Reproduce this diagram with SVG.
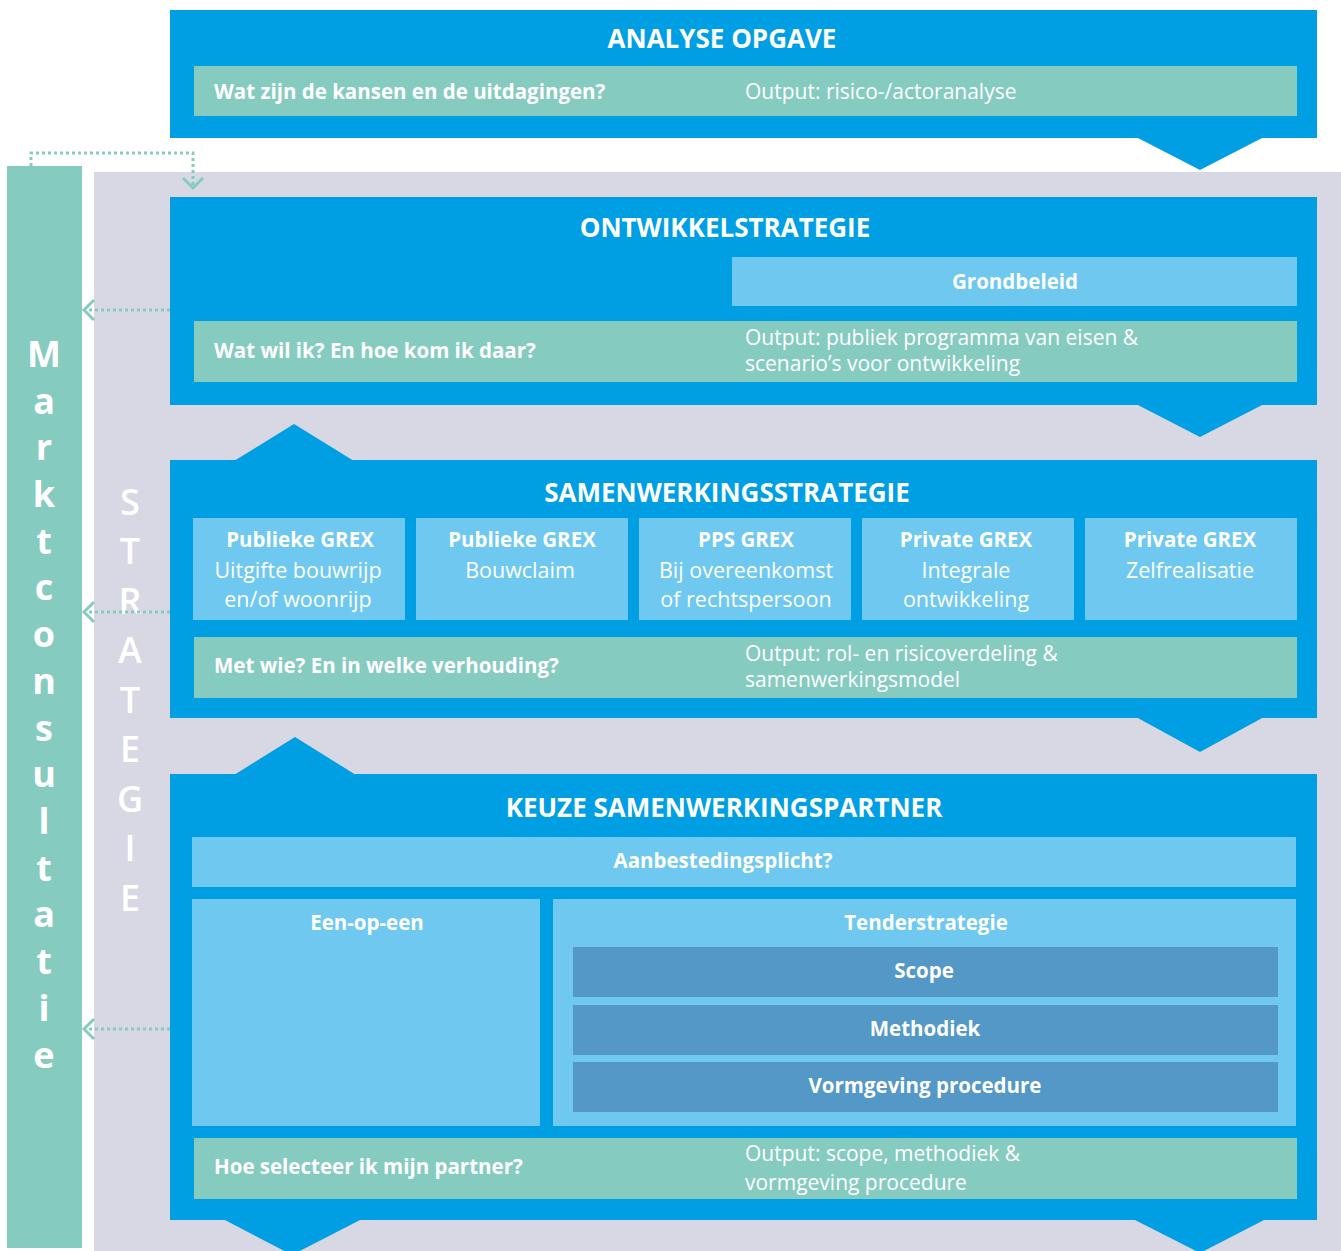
<svg xmlns="http://www.w3.org/2000/svg" width="1341" height="1251" viewBox="0 0 1341 1251">
<style>
.blue{fill:#009FE3}
.lb{fill:#6EC8F0}
.teal{fill:#86CBBF}
.dark{fill:#5398C6}
.gray{fill:#D8D8E5}
text{font-family:"Open Sans","Liberation Sans",sans-serif;fill:#fff}
.h{font-size:26px;font-weight:700;text-anchor:middle}
.q{font-size:20.5px;font-weight:700}
.o{font-size:21px;font-weight:400}
.t{font-size:20.5px;font-weight:700;text-anchor:middle}
.r{font-size:21.5px;font-weight:400;text-anchor:middle}
.v{font-size:36px;font-weight:700;text-anchor:middle}
.s{font-size:36px;font-weight:600;text-anchor:middle}
.dot{fill:none;stroke:#86CBBF;stroke-width:3;stroke-dasharray:3 3}
.chev{fill:none;stroke:#86CBBF;stroke-width:3}
</style>
<rect x="0" y="0" width="1341" height="1251" fill="#fff"/>
<rect class="gray" x="94" y="172" width="1247" height="1079"/>

<g id="marktconsultatie">
<rect class="teal" x="7" y="166" width="75" height="1082"/>
<text class="v" x="44" y="367">M</text>
<text class="v" x="44" y="414">a</text>
<text class="v" x="44" y="460">r</text>
<text class="v" x="44" y="507">k</text>
<text class="v" x="44" y="554">t</text>
<text class="v" x="44" y="600">c</text>
<text class="v" x="44" y="647">o</text>
<text class="v" x="44" y="694">n</text>
<text class="v" x="44" y="741">s</text>
<text class="v" x="44" y="787">u</text>
<text class="v" x="44" y="834">l</text>
<text class="v" x="44" y="881">t</text>
<text class="v" x="44" y="927">a</text>
<text class="v" x="44" y="974">t</text>
<text class="v" x="44" y="1021">i</text>
<text class="v" x="44" y="1068">e</text>
</g>

<g id="strategie">
<text class="s" x="130" y="515">S</text>
<text class="s" x="130" y="564">T</text>
<text class="s" x="130" y="614">R</text>
<text class="s" x="130" y="663">A</text>
<text class="s" x="130" y="713">T</text>
<text class="s" x="130" y="762">E</text>
<text class="s" x="130" y="812">G</text>
<text class="s" x="130" y="861">I</text>
<text class="s" x="130" y="911">E</text>
</g>

<g id="analyse-opgave">
<rect class="blue" x="170" y="10" width="1147" height="128"/>
<polygon class="blue" points="1136,137 1264,137 1200,170"/>
<text class="h" x="722" y="48">ANALYSE OPGAVE</text>
<rect class="teal" x="194" y="66" width="1103" height="50"/>
<text class="q" x="214" y="99">Wat zijn de kansen en de uitdagingen?</text>
<text class="o" x="745" y="99">Output: risico-/actoranalyse</text>
</g>

<g id="ontwikkelstrategie">
<rect class="blue" x="170" y="197" width="1147" height="208"/>
<polygon class="blue" points="1136,404 1264,404 1200,437"/>
<text class="h" x="725" y="237">ONTWIKKELSTRATEGIE</text>
<g id="grondbeleid">
<rect class="lb" x="732" y="257" width="565" height="49"/>
<text class="t" x="1015" y="289">Grondbeleid</text>
</g>
<rect class="teal" x="194" y="321" width="1103" height="61"/>
<text class="q" x="214" y="358">Wat wil ik? En hoe kom ik daar?</text>
<text class="o" x="745" y="345">Output: publiek programma van eisen &amp;</text>
<text class="o" x="745" y="371">scenario’s voor ontwikkeling</text>
</g>

<g id="samenwerkingsstrategie">
<polygon class="blue" points="234,461 354,461 294,424"/>
<rect class="blue" x="170" y="460" width="1147" height="258"/>
<polygon class="blue" points="1136,717 1264,717 1200,752"/>
<text class="h" x="727" y="502">SAMENWERKINGSSTRATEGIE</text>
<g id="publieke-grex-uitgifte">
<rect class="lb" x="193" y="518" width="212" height="102"/>
<text class="t" x="300" y="547">Publieke GREX</text>
<text class="r" x="298" y="578">Uitgifte bouwrijp</text>
<text class="r" x="298" y="607">en/of woonrijp</text>
</g>
<g id="publieke-grex-bouwclaim">
<rect class="lb" x="416" y="518" width="212" height="102"/>
<text class="t" x="522" y="547">Publieke GREX</text>
<text class="r" x="520" y="578">Bouwclaim</text>
</g>
<g id="pps-grex">
<rect class="lb" x="639" y="518" width="212" height="102"/>
<text class="t" x="746" y="547">PPS GREX</text>
<text class="r" x="746" y="578">Bij overeenkomst</text>
<text class="r" x="746" y="607">of rechtspersoon</text>
</g>
<g id="private-grex-integrale">
<rect class="lb" x="862" y="518" width="212" height="102"/>
<text class="t" x="966" y="547">Private GREX</text>
<text class="r" x="966" y="578">Integrale</text>
<text class="r" x="966" y="607">ontwikkeling</text>
</g>
<g id="private-grex-zelf">
<rect class="lb" x="1085" y="518" width="212" height="102"/>
<text class="t" x="1190" y="547">Private GREX</text>
<text class="r" x="1190" y="578">Zelfrealisatie</text>
</g>
<rect class="teal" x="194" y="637" width="1103" height="61"/>
<text class="q" x="214" y="673">Met wie? En in welke verhouding?</text>
<text class="o" x="745" y="661">Output: rol- en risicoverdeling &amp;</text>
<text class="o" x="745" y="687">samenwerkingsmodel</text>
</g>

<g id="keuze-samenwerkingspartner">
<polygon class="blue" points="234,775 356,775 295,737"/>
<rect class="blue" x="170" y="774" width="1147" height="446"/>
<polygon class="blue" points="223,1219 362,1219 292,1255"/>
<polygon class="blue" points="1133,1219 1266,1219 1200,1253"/>
<text class="h" x="724" y="817">KEUZE SAMENWERKINGSPARTNER</text>
<g id="aanbestedingsplicht">
<rect class="lb" x="192" y="837" width="1104" height="50"/>
<text class="t" x="723" y="868">Aanbestedingsplicht?</text>
</g>
<g id="een-op-een">
<rect class="lb" x="192" y="899" width="348" height="227"/>
<text class="t" x="367" y="930">Een-op-een</text>
</g>
<g id="tenderstrategie">
<rect class="lb" x="553" y="899" width="743" height="227"/>
<text class="t" x="926" y="930">Tenderstrategie</text>
</g>
<g id="scope">
<rect class="dark" x="573" y="947" width="705" height="50"/>
<text class="t" x="924" y="978">Scope</text>
</g>
<g id="methodiek">
<rect class="dark" x="573" y="1005" width="705" height="50"/>
<text class="t" x="925" y="1036">Methodiek</text>
</g>
<g id="vormgeving-procedure">
<rect class="dark" x="573" y="1062" width="705" height="50"/>
<text class="t" x="925" y="1093">Vormgeving procedure</text>
</g>
<rect class="teal" x="194" y="1138" width="1103" height="61"/>
<text class="q" x="214" y="1174">Hoe selecteer ik mijn partner?</text>
<text class="o" x="745" y="1161">Output: scope, methodiek &amp;</text>
<text class="o" x="745" y="1190">vormgeving procedure</text>
</g>

<g id="connectors">
<polyline class="dot" points="31,166 31,153 193,153 193,188"/>
<polyline class="chev" points="183,178 193,188 203,178"/>
<line class="dot" x1="170" y1="310" x2="86" y2="310"/>
<polyline class="chev" points="94,300 84,310 94,320"/>
<line class="dot" x1="170" y1="612" x2="86" y2="612"/>
<polyline class="chev" points="94,602 84,612 94,622"/>
<line class="dot" x1="170" y1="1029" x2="86" y2="1029"/>
<polyline class="chev" points="94,1019 84,1029 94,1039"/>
</g>
</svg>
